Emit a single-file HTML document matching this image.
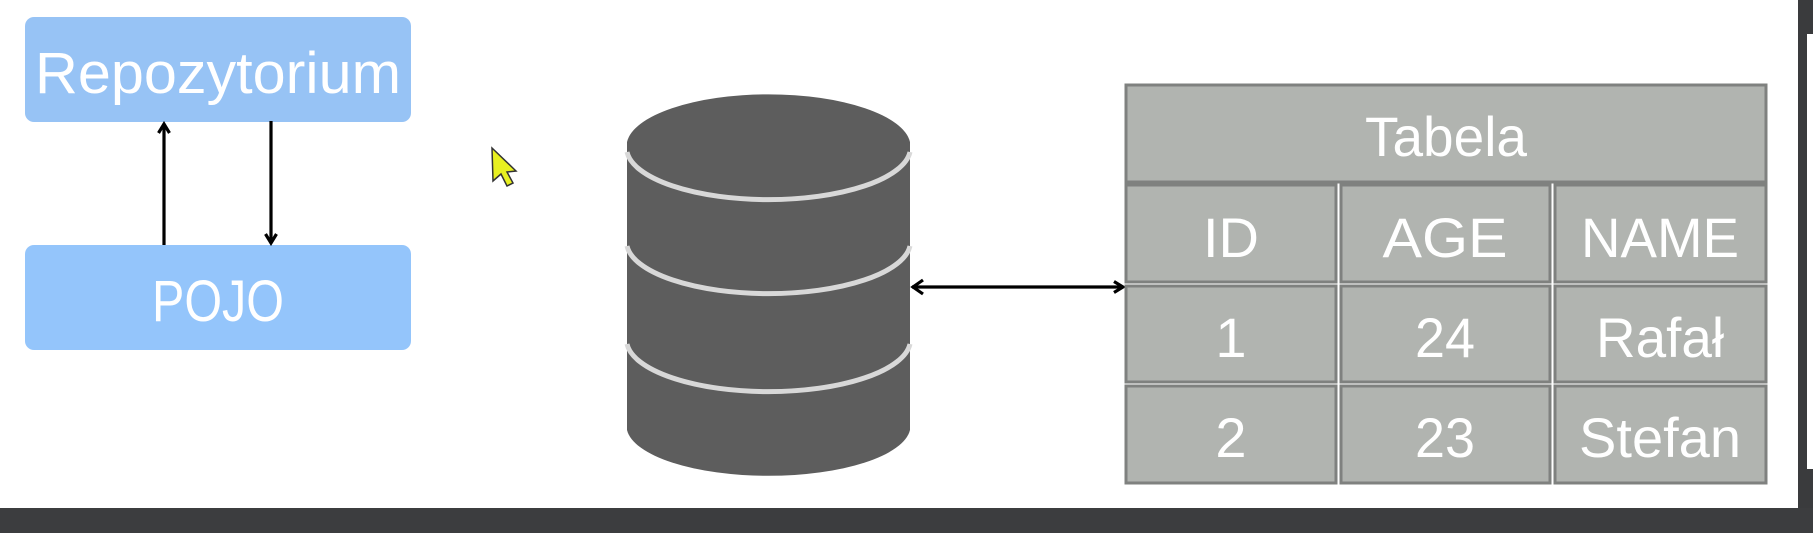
<!DOCTYPE html>
<html><head><meta charset="utf-8"><style>
html,body{margin:0;padding:0;background:#fff;}
svg{display:block;}
text{font-family:"Liberation Sans",sans-serif;fill:#fff;}
</style></head><body>
<svg width="1813" height="533" viewBox="0 0 1813 533" xmlns="http://www.w3.org/2000/svg">
<defs>
<marker id="ah" markerWidth="14" markerHeight="14" refX="11" refY="7" orient="auto" markerUnits="userSpaceOnUse">
<path d="M2,1.5 L11,7 L2,12.5" fill="none" stroke="#000" stroke-width="3.2"/>
</marker>
</defs>
<rect width="1813" height="533" fill="#fff"/>
<rect x="25" y="17" width="386" height="105" rx="9" fill="#97c3f5"/>
<text x="218" y="93" font-size="58" text-anchor="middle" textLength="366" lengthAdjust="spacingAndGlyphs">Repozytorium</text>
<rect x="25" y="245" width="386" height="105" rx="9" fill="#94c5fb"/>
<text x="218" y="321" font-size="58" text-anchor="middle" textLength="132" lengthAdjust="spacingAndGlyphs">POJO</text>
<line x1="164" y1="245" x2="164" y2="124" stroke="#000" stroke-width="3.2" marker-end="url(#ah)"/>
<line x1="271" y1="121" x2="271" y2="243" stroke="#000" stroke-width="3.2" marker-end="url(#ah)"/>
<path d="M492,148 L493,181 L501,174 L507,186 L513,183 L507,172 L516,171 Z" fill="#e8f020" stroke="#333" stroke-width="1.5"/>
<path d="M627,142 A142,52 0 0 1 910,142 L910,430 A142,50 0 0 1 627,430 Z" fill="#5d5d5d"/>
<path d="M627,152 A142,52 0 0 0 910,152" fill="none" stroke="#d8d8d8" stroke-width="5"/>
<path d="M627,246 A142,52 0 0 0 910,246" fill="none" stroke="#d8d8d8" stroke-width="5"/>
<path d="M627,344 A142,52 0 0 0 910,344" fill="none" stroke="#d8d8d8" stroke-width="5"/>
<line x1="912" y1="287" x2="1123" y2="287" stroke="#000" stroke-width="3.2" marker-end="url(#ah)"/>
<path d="M923,280 L913,287 L923,294" fill="none" stroke="#000" stroke-width="3.2"/>
<g fill="#b1b4b0" stroke="#7f817f" stroke-width="3">
<rect x="1126" y="85" width="640" height="97"/>
<rect x="1126" y="185" width="210" height="97"/>
<rect x="1341" y="185" width="209" height="97"/>
<rect x="1555" y="185" width="211" height="97"/>
<rect x="1126" y="286" width="210" height="96"/>
<rect x="1341" y="286" width="209" height="96"/>
<rect x="1555" y="286" width="211" height="96"/>
<rect x="1126" y="386" width="210" height="97"/>
<rect x="1341" y="386" width="209" height="97"/>
<rect x="1555" y="386" width="211" height="97"/>
</g>
<g font-size="56" text-anchor="middle">
<text x="1446" y="156" textLength="162" lengthAdjust="spacingAndGlyphs">Tabela</text>
<text x="1231" y="257">ID</text>
<text x="1445" y="257" textLength="125" lengthAdjust="spacingAndGlyphs">AGE</text>
<text x="1660" y="257" textLength="158" lengthAdjust="spacingAndGlyphs">NAME</text>
<text x="1231" y="357">1</text>
<text x="1445" y="357" textLength="60" lengthAdjust="spacingAndGlyphs">24</text>
<text x="1660" y="357" textLength="128" lengthAdjust="spacingAndGlyphs">Rafał</text>
<text x="1231" y="457">2</text>
<text x="1445" y="457" textLength="60" lengthAdjust="spacingAndGlyphs">23</text>
<text x="1660" y="457" textLength="162" lengthAdjust="spacingAndGlyphs">Stefan</text>
</g>
<rect x="1798" y="0" width="15" height="533" fill="#3a3b3d"/>
<rect x="1807" y="34" width="6" height="435" fill="#fff"/>
<rect x="0" y="508" width="1813" height="25" fill="#3c3d3f"/>
</svg>
</body></html>
